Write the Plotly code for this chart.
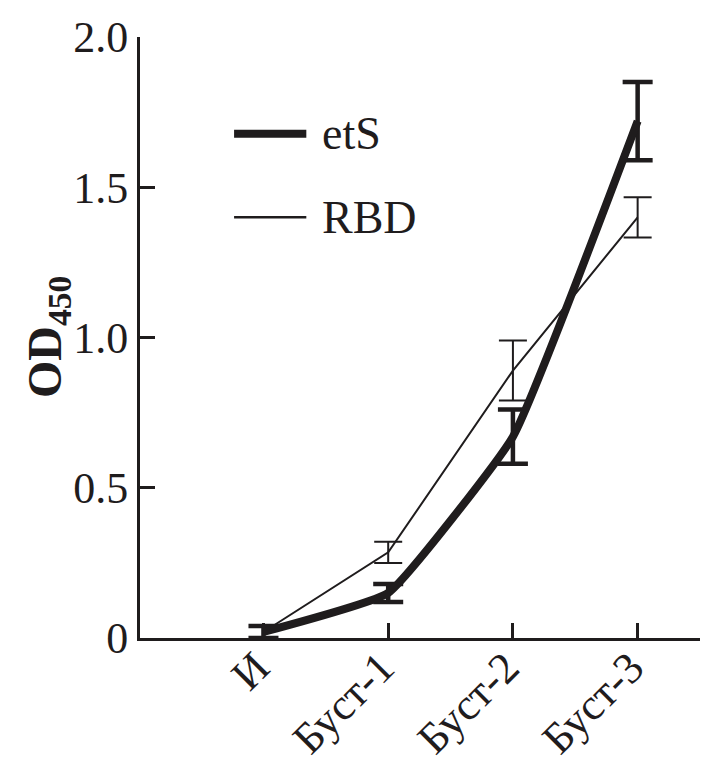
import plotly.graph_objects as go

categories = ["И", "Буст-1", "Буст-2", "Буст-3"]
x_pos = [0, 1, 2, 3]
ets_values = [0.02, 0.15, 0.67, 1.72]
ets_err = [0.02, 0.03, 0.09, 0.13]
rbd_values = [0.02, 0.285, 0.89, 1.40]
rbd_err = [0.02, 0.035, 0.10, 0.067]
y_ticks = [0, 0.5, 1.0, 1.5, 2.0]
y_ticktext = ["0", "0.5", "1.0", "1.5", "2.0"]

INK = "#1f1c1d"
FONT = "Liberation Serif"
TICK_SIZE = 44

fig = go.Figure()
fig.add_trace(go.Scatter(
    x=x_pos, y=rbd_values, mode="lines", name="RBD",
    line=dict(color=INK, width=2),
    error_y=dict(type="data", array=rbd_err, visible=True, color=INK, thickness=2, width=14),
    showlegend=False,
))
fig.add_trace(go.Scatter(
    x=x_pos, y=ets_values, mode="lines", name="etS",
    line=dict(color=INK, width=8, shape="spline", smoothing=0.35),
    error_y=dict(type="data", array=ets_err, visible=True, color=INK, thickness=4.5, width=15),
    showlegend=False,
))

# manual legend
legend_items = [("etS", 8, 0.839), ("RBD", 2.5, 0.700)]
for label, w, yp in legend_items:
    fig.add_shape(type="line", xref="paper", yref="paper", x0=0.168, x1=0.297, y0=yp, y1=yp,
                  line=dict(color=INK, width=w))
    fig.add_annotation(xref="paper", yref="paper", x=0.322, y=yp, text=label, showarrow=False,
                       xanchor="left", yanchor="middle", font=dict(family=FONT, size=46, color=INK))

# y-axis title
fig.add_annotation(xref="paper", yref="paper", x=-0.165, y=0.5, text="<b>OD<sub>450</sub></b>",
                   textangle=-90, showarrow=False, xanchor="center", yanchor="middle",
                   font=dict(family=FONT, size=48, color=INK))

fig.update_layout(
    width=712, height=764,
    margin=dict(l=140, r=12, t=37, b=126),
    plot_bgcolor="white", paper_bgcolor="white",
    font=dict(family=FONT, size=TICK_SIZE, color=INK),
    showlegend=False,
)
fig.update_xaxes(
    range=[-0.99, 3.5], tickvals=x_pos, ticktext=categories, tickangle=-45, automargin=False,
    ticklabelstandoff=-17, ticklabelshift=-7,
    showline=True, linecolor=INK, linewidth=3, ticks="inside", ticklen=15, tickwidth=3,
    tickcolor=INK, showgrid=False, zeroline=False, tickfont=dict(family=FONT, size=TICK_SIZE, color=INK),
)
fig.update_yaxes(
    range=[0, 2.0], tickvals=y_ticks, ticktext=y_ticktext, automargin=False,
    showline=True, linecolor=INK, linewidth=3, ticks="inside", ticklen=15, tickwidth=3,
    tickcolor=INK, showgrid=False, zeroline=False, tickfont=dict(family=FONT, size=TICK_SIZE, color=INK),
)

fig.write_html("out.html")
